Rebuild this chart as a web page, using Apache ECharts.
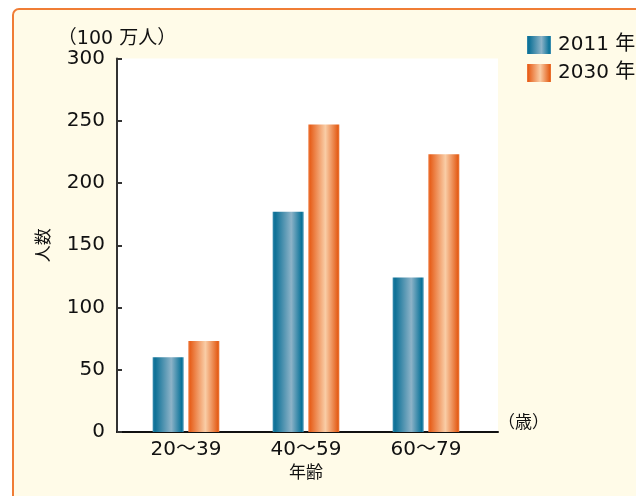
<!DOCTYPE html>
<html>
<head>
<meta charset="utf-8">
<script src="https://cdn.jsdelivr.net/npm/echarts@6/dist/echarts.min.js"></script>
<style>
html,body{margin:0;padding:0;background:#ffffff;}
#frame{position:absolute;left:12px;top:8px;width:700px;height:600px;box-sizing:border-box;border:2px solid #f07d35;border-radius:7px;background:#fffbe8;}
#chart{position:absolute;left:0;top:0;width:636px;height:496px;}
</style>
</head>
<body>
<div id="frame"></div>
<div id="chart"></div>
<script>
const categories = ['20～39', '40～59', '60～79'];
const seriesNames = ['2011 年', '2030 年'];
const values2011 = [60, 177, 124];
const values2030 = [73, 247, 223];
const yTicks = [0, 50, 100, 150, 200, 250, 300];

const FONT = '"DejaVu Sans", "Noto Sans CJK JP", sans-serif';

const blueGrad = new echarts.graphic.LinearGradient(0, 0, 1, 0, [
  {offset: 0, color: '#3a8db0'},
  {offset: 0.07, color: '#0a6f95'},
  {offset: 0.6, color: '#8db3c8'},
  {offset: 0.93, color: '#0a7399'},
  {offset: 1, color: '#4a96b6'}
]);
const orangeGrad = new echarts.graphic.LinearGradient(0, 0, 1, 0, [
  {offset: 0, color: '#ef7d42'},
  {offset: 0.06, color: '#e7601c'},
  {offset: 0.55, color: '#f9cda6'},
  {offset: 0.95, color: '#e45e18'},
  {offset: 1, color: '#ec7a3c'}
]);

const chart = echarts.init(document.getElementById('chart'), null, {renderer: 'canvas'});
chart.setOption({
  backgroundColor: 'transparent',
  animation: false,
  textStyle: {fontFamily: FONT},
  legend: {
    orient: 'vertical',
    left: 527, top: 35, padding: 0,
    icon: 'rect',
    itemWidth: 24, itemHeight: 18, itemGap: 8,
    data: seriesNames,
    textStyle: {fontSize: 20, color: '#111', fontFamily: FONT, padding: [0, 0, 0, 2]}
  },
  grid: [
    {left: 117, right: 138, top: 58.5, bottom: 64, show: true, backgroundColor: '#ffffff', borderWidth: 0},
    {left: 126, width: 360, top: 58.5, bottom: 64, show: false}
  ],
  xAxis: [
    {
      gridIndex: 0, type: 'value', min: 0, max: 1,
      axisLine: {show: true, lineStyle: {color: '#111', width: 2}},
      axisTick: {show: false}, axisLabel: {show: false}, splitLine: {show: false},
      name: '（歳）', nameLocation: 'end', nameGap: 0,
      nameTextStyle: {fontSize: 17, color: '#111', verticalAlign: 'bottom'}
    },
    {
      gridIndex: 1, type: 'category', data: categories,
      axisLine: {show: false}, axisTick: {show: false},
      axisLabel: {fontSize: 20, color: '#111', margin: 8},
      name: '年齢', nameLocation: 'middle', nameGap: 30,
      nameTextStyle: {fontSize: 17, color: '#111'}
    }
  ],
  yAxis: [
    {
      gridIndex: 0, type: 'value', min: 0, max: 300, interval: 50,
      axisLine: {show: true, lineStyle: {color: '#333', width: 2}},
      axisTick: {show: true, inside: true, length: 5, lineStyle: {color: '#333', width: 2}},
      axisLabel: {fontSize: 20, color: '#111', margin: 12,
        formatter: v => yTicks.indexOf(v) >= 0 ? String(v) : ''},
      splitLine: {show: false},
      name: '（100 万人）', nameLocation: 'end', nameGap: 10,
      nameTextStyle: {fontSize: 19, color: '#111', align: 'center'}
    },
    {
      gridIndex: 1, type: 'value', min: 0, max: 300, interval: 50,
      axisLine: {show: false}, axisTick: {show: false}, axisLabel: {show: false},
      splitLine: {show: false},
      name: '人数', nameLocation: 'middle', nameGap: 73,
      nameTextStyle: {fontSize: 17, color: '#111'}
    }
  ],
  series: [
    {
      name: seriesNames[0], type: 'bar', xAxisIndex: 1, yAxisIndex: 1,
      data: values2011, barWidth: 31, barGap: '15%',
      itemStyle: {color: blueGrad}
    },
    {
      name: seriesNames[1], type: 'bar', xAxisIndex: 1, yAxisIndex: 1,
      data: values2030, barWidth: 31, barGap: '15%',
      itemStyle: {color: orangeGrad}
    }
  ]
});
</script>
</body>
</html>
